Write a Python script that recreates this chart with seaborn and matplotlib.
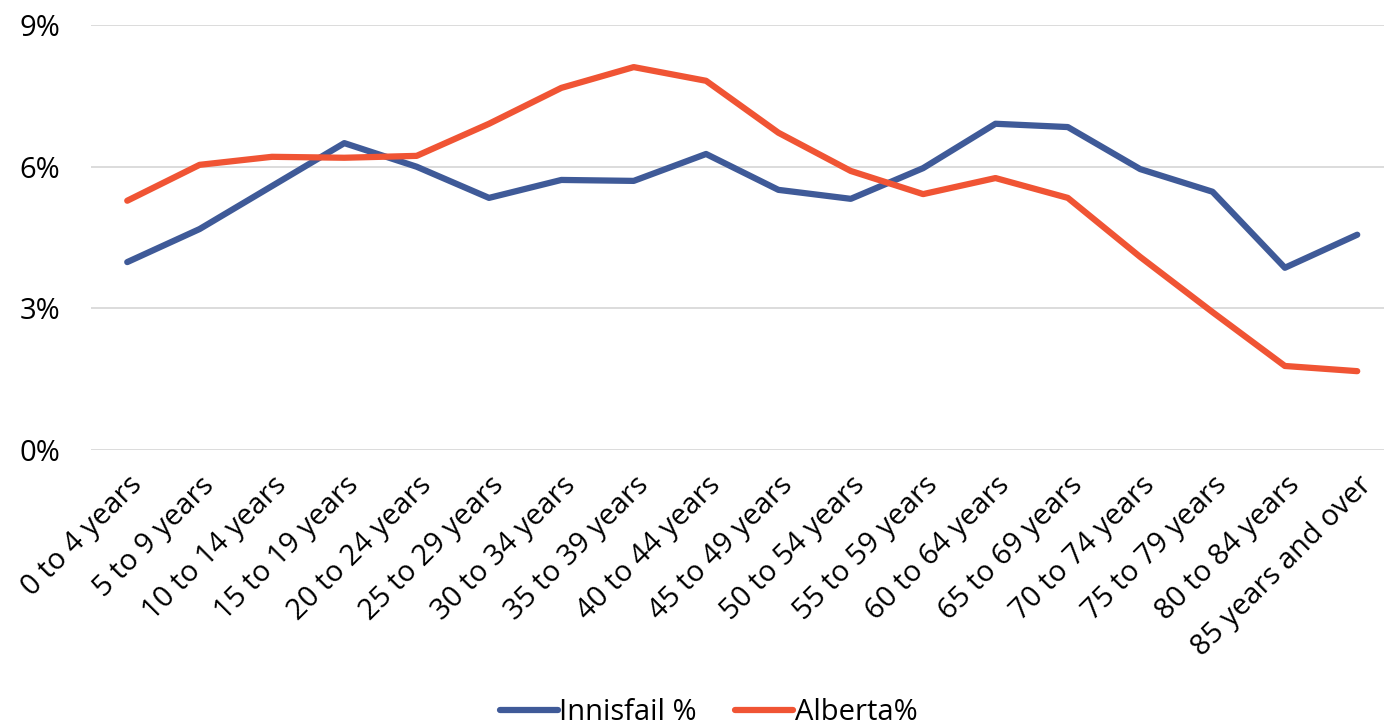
import pandas as pd
import seaborn as sns
import matplotlib.pyplot as plt
from matplotlib.ticker import FuncFormatter

age_groups = ['0 to 4 years', '5 to 9 years', '10 to 14 years', '15 to 19 years',
              '20 to 24 years', '25 to 29 years', '30 to 34 years', '35 to 39 years',
              '40 to 44 years', '45 to 49 years', '50 to 54 years', '55 to 59 years',
              '60 to 64 years', '65 to 69 years', '70 to 74 years', '75 to 79 years',
              '80 to 84 years', '85 years and over']
innisfail = [3.98, 4.68, 5.59, 6.50, 6.00, 5.34, 5.72, 5.70, 6.27, 5.51,
             5.32, 5.97, 6.91, 6.84, 5.95, 5.47, 3.86, 4.56]
alberta = [5.28, 6.04, 6.21, 6.19, 6.23, 6.91, 7.67, 8.11, 7.82, 6.72,
           5.91, 5.42, 5.76, 5.34, 4.09, 2.92, 1.78, 1.67]
series_names = ['Innisfail %', 'Alberta%']
colors = ['#3F5A98', '#F05434']

sns.set_style('whitegrid')
plt.rcParams['font.family'] = ['Open Sans', 'DejaVu Sans']
plt.rcParams['text.color'] = 'black'

df = pd.DataFrame({
    'pos': list(range(len(age_groups))) * 2,
    'value': innisfail + alberta,
    'series': [series_names[0]] * len(age_groups) + [series_names[1]] * len(age_groups),
})

fig = plt.figure(figsize=(13.84, 7.27), dpi=100)
ax = fig.add_axes([0.0658, 0.381, 0.941, 0.5845])
sns.lineplot(data=df, x='pos', y='value', hue='series', palette=colors,
             linewidth=4.5, ax=ax, legend=True)

ax.set_xlim(-0.5, len(age_groups) - 0.5)
ax.set_ylim(0, 9)
ax.set_yticks([0, 3, 6, 9])
ax.yaxis.set_major_formatter(FuncFormatter(lambda v, p: f'{v:.0f}%'))
ax.set_xticks(range(len(age_groups)))
ax.set_xticklabels(age_groups, rotation=45, ha='right', rotation_mode='anchor')
ax.tick_params(axis='both', labelsize=21, colors='black', length=0)
ax.tick_params(axis='x', pad=15)
ax.tick_params(axis='y', pad=22)
ax.grid(axis='x', visible=False)
ax.grid(axis='y', color='#d9d9d9', linewidth=1.3)
for s in ax.spines.values():
    s.set_visible(False)
ax.set_xlabel('')
ax.set_ylabel('')

handles, labels = ax.get_legend_handles_labels()
ax.get_legend().remove()
fig.legend(handles, labels, loc='lower center', bbox_to_anchor=(0.512, -0.036), ncol=2,
           frameon=False, fontsize=21, handlelength=2.0, handletextpad=0.05,
           columnspacing=1.3)

fig.savefig('out.png', dpi=100)
